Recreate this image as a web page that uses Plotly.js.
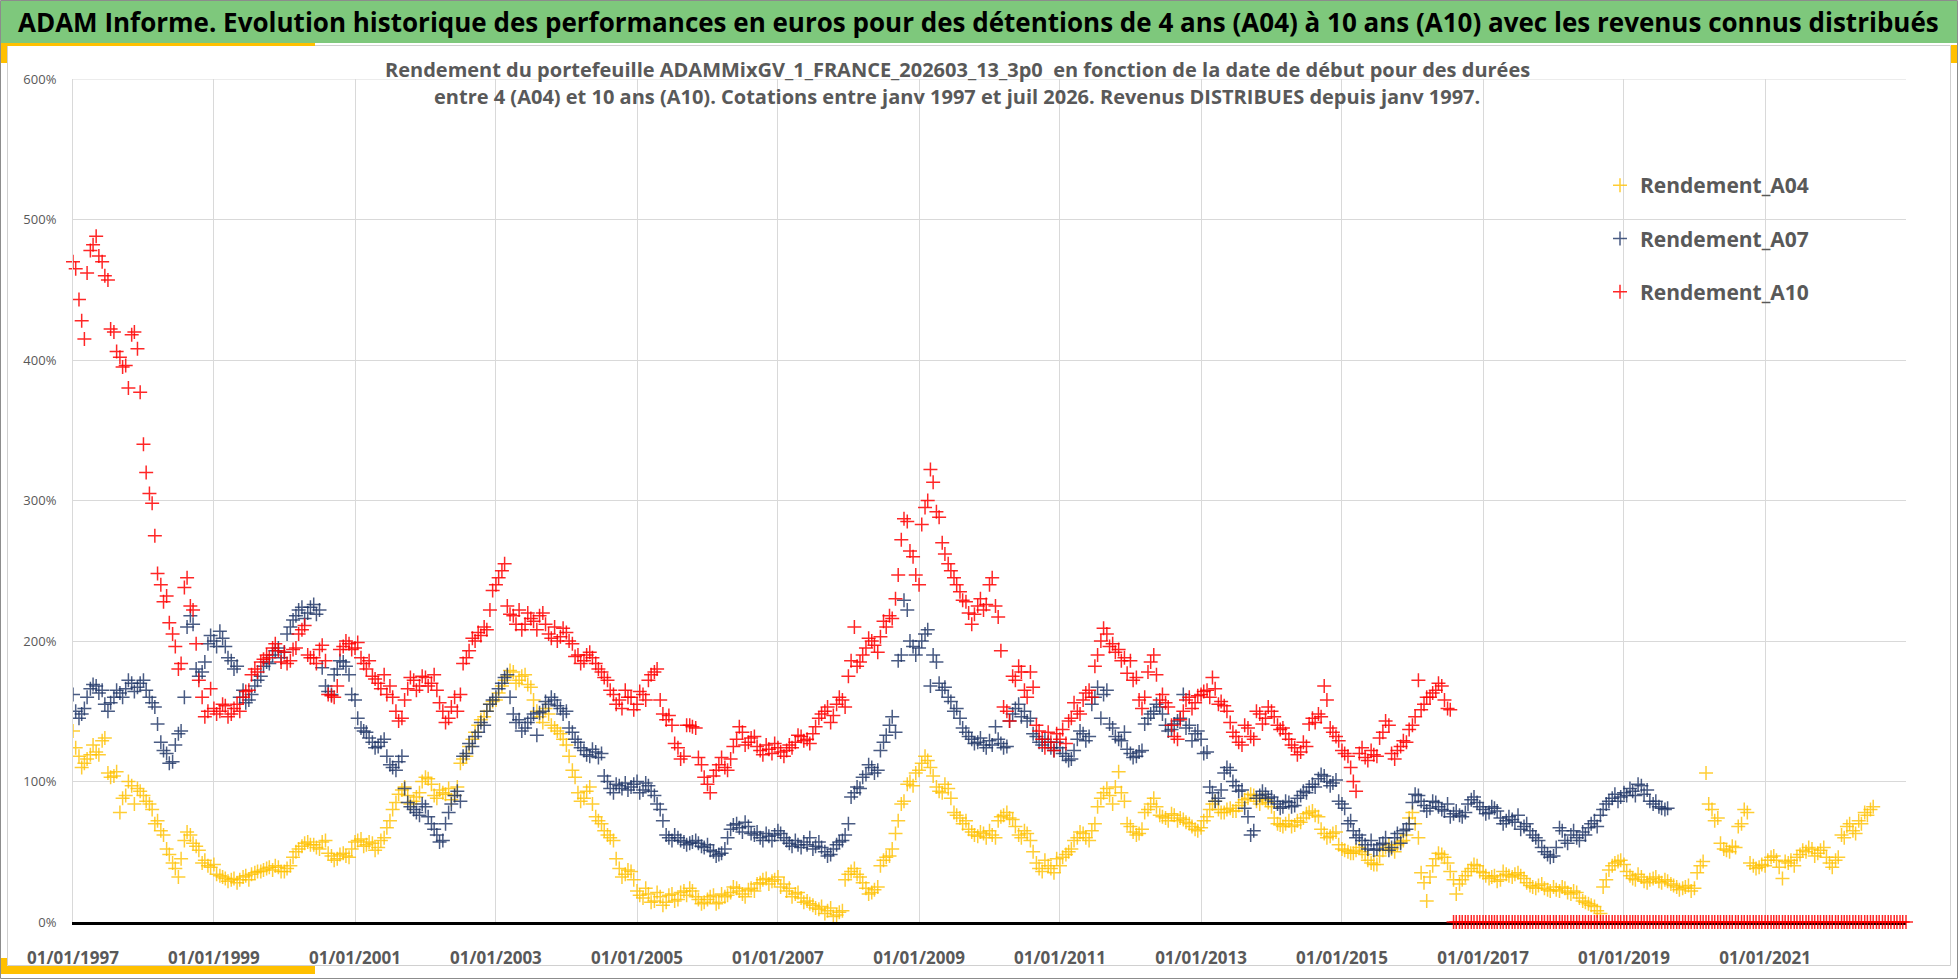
<!DOCTYPE html>
<html>
<head>
<meta charset="utf-8">
<script src="https://cdn.plot.ly/plotly-3.0.1.min.js"></script>
<style>
  html, body { margin: 0; padding: 0; background: #fff; }
  #chart { width: 1958px; height: 979px; }
</style>
</head>
<body>
<div id="chart"></div>
<script>
// readings in %, two per month (1st and 15th), starting 1 January 1997
const a04 = [
  136,124,118,110,113,116,119,126,121,119,129,131,106,103,104,107,78,88,90,100,97,84,95,93,       // 1997
  90,86,84,80,70,72,65,62,52,48,42,38,32,45,58,64,62,56,54,51,42,44,40,39,                       // 1998
  41,34,33,32,31,29,30,31,28,30,32,33,30,34,35,36,36,37,38,39,37,40,39,36,                       // 1999
  36,38,40,46,50,52,54,56,57,55,55,53,52,57,58,49,47,44,45,48,49,47,46,52,                       // 2000
  57,58,59,54,55,57,56,51,53,58,60,67,72,80,85,91,94,96,90,84,86,89,92,100,                      // 2001
  103,102,98,90,88,94,92,91,95,87,90,96,113,116,118,125,130,135,140,144,146,150,155,157,         // 2002
  158,163,168,172,175,179,178,170,172,175,176,169,167,158,150,146,142,152,148,140,138,136,134,130, // 2003
  126,118,108,103,92,86,88,93,96,84,75,72,70,65,62,60,58,45,38,32,34,37,36,30,                   // 2004
  22,19,17,24,20,14,15,21,18,12,14,19,20,15,16,21,22,19,24,22,18,16,13,14,                       // 2005
  16,18,19,13,14,20,18,19,21,25,24,22,20,18,23,24,22,27,28,30,31,27,29,30,                       // 2006
  32,25,27,22,24,18,20,21,17,14,15,13,12,10,9,11,6,8,10,4,5,7,8,30,                              // 2007
  34,36,38,34,32,28,24,20,21,23,25,40,44,46,47,52,63,72,84,86,98,100,97,106,                     // 2008
  108,113,118,115,110,104,96,93,92,98,95,88,78,76,74,70,72,66,64,62,61,64,63,60,                 // 2009
  65,62,60,72,75,76,78,74,73,68,62,60,65,63,58,50,42,38,36,44,40,38,35,45,                       // 2010
  40,46,48,50,52,58,60,64,63,60,58,65,70,82,88,92,95,90,84,96,107,92,86,70,                      // 2011
  68,64,62,63,66,78,80,84,88,82,76,75,74,72,77,76,72,74,73,71,70,68,66,65,                       // 2012
  67,72,75,80,84,86,80,78,78,80,81,79,79,83,85,87,88,91,90,86,84,88,87,85,                       // 2013
  82,74,70,69,68,70,72,68,69,72,71,74,77,78,79,76,75,66,63,60,61,63,64,55,                       // 2014
  52,51,50,49,49,51,53,50,48,44,42,41,41,47,51,53,55,52,50,55,57,58,62,74,                       // 2015
  78,70,60,35,28,15,32,40,45,49,48,46,42,36,30,20,27,30,33,36,38,41,40,36,                       // 2016
  35,33,31,32,33,29,30,36,34,33,32,34,35,33,31,28,26,25,24,26,27,24,23,22,                       // 2017
  25,23,22,25,24,21,20,22,21,17,15,14,13,12,11,8,6,25,30,37,40,42,43,44,                         // 2018
  41,36,33,31,30,34,32,29,28,30,31,32,29,28,30,29,27,26,25,23,24,25,26,22,                       // 2019
  24,35,40,43,106,84,80,72,74,56,52,51,50,54,53,68,70,80,78,42,40,38,39,41,                      // 2020
  40,44,46,47,44,39,31,43,42,44,40,46,48,51,50,53,52,47,49,51,53,46,42,39,                       // 2021
  44,46,62,60,68,70,65,63,72,70,78,76,80,82                                                      // 2022 (to July)
];

const a07 = [
  162,150,145,148,152,160,166,169,168,163,165,155,150,156,160,165,163,160,166,172,170,164,167,170, // 1997
  172,165,160,156,153,141,128,122,120,113,114,126,134,136,160,210,218,212,180,175,178,185,198,204, // 1998
  200,196,207,202,196,188,186,180,182,160,165,156,158,162,168,172,175,182,185,184,190,193,195,188, // 1999
  192,205,210,215,218,222,224,216,220,224,226,219,222,181,168,164,162,176,180,186,185,182,176,162, // 2000
  158,145,138,136,135,131,128,124,125,128,130,118,112,110,108,114,118,95,85,82,80,78,76,84,       // 2001
  82,75,70,66,62,57,58,70,78,84,90,93,86,118,120,127,125,132,135,142,140,150,155,158,             // 2002
  160,166,170,174,176,160,148,142,144,136,138,142,145,148,133,149,150,157,155,160,158,154,152,148, // 2003
  150,138,135,130,128,124,122,119,118,123,121,117,120,104,100,95,92,98,97,95,99,94,96,98,         // 2004
  100,92,94,99,97,93,90,84,80,72,62,60,58,62,60,58,57,55,56,57,58,56,54,53,                       // 2005
  55,51,50,47,48,49,52,60,66,69,70,67,64,71,68,63,62,64,60,58,63,61,58,62,                        // 2006
  65,63,60,58,56,54,58,55,53,57,55,60,52,54,57,53,50,47,48,52,55,57,58,62,                        // 2007
  70,89,92,96,95,103,105,112,110,106,108,122,128,133,140,146,135,186,190,229,222,200,196,190,     // 2008
  195,200,205,208,168,190,185,170,165,167,160,157,150,152,145,138,135,132,130,127,128,131,126,124, // 2009
  129,126,139,130,127,124,125,143,148,152,155,146,150,143,145,134,132,128,126,130,128,124,122,128, // 2010
  124,120,118,115,116,122,130,136,134,129,132,155,160,167,145,162,165,141,138,132,130,129,135,123, // 2011
  120,117,118,121,122,141,145,148,150,155,153,148,140,136,137,141,143,145,162,138,140,129,134,136, // 2012
  130,120,121,96,92,86,88,94,106,110,108,100,97,93,94,81,75,62,65,88,90,93,91,88,                 // 2013
  89,86,84,81,82,86,85,82,83,88,90,93,92,96,98,96,102,105,104,100,97,99,101,86,                   // 2014
  84,81,70,72,65,60,62,58,55,52,58,51,52,55,56,60,51,53,60,63,56,65,66,70,                        // 2015
  85,91,90,86,83,79,81,86,85,82,80,79,84,75,77,79,76,75,78,84,87,89,85,82,                        // 2016
  80,77,78,82,81,79,74,70,72,75,73,71,76,66,68,70,65,62,60,58,53,50,48,46,                        // 2017
  47,53,67,65,58,56,62,65,60,58,64,62,67,70,72,68,76,80,84,86,88,91,86,89,                        // 2018
  92,90,95,93,90,98,97,91,94,86,84,86,82,81,80,81                                                 // 2019 (to August)
];

const a10 = [
  470,465,443,428,415,462,478,482,488,474,470,460,457,422,420,406,402,395,396,380,418,420,408,377, // 1997
  340,320,305,298,275,248,240,228,232,213,205,196,180,184,238,245,225,222,198,172,160,146,150,166, // 1998
  152,148,150,155,154,146,148,152,155,150,160,164,165,176,180,178,185,187,190,188,195,198,193,185, // 1999
  192,184,186,194,195,205,208,211,190,188,188,184,194,197,186,162,161,160,168,194,196,200,198,194, // 2000
  195,199,188,184,180,186,175,173,170,166,176,162,168,160,150,143,145,158,166,174,172,165,168,175, // 2001
  174,168,170,176,165,156,150,142,145,153,160,150,162,184,188,193,202,200,206,204,210,208,222,236, // 2002
  240,245,250,255,225,219,218,212,222,208,212,220,216,214,208,218,220,212,205,202,210,200,203,209, // 2003
  206,200,198,189,190,184,186,190,192,188,184,180,178,174,172,165,162,155,158,152,165,160,160,151, // 2004
  155,164,162,158,172,176,178,180,158,148,144,147,140,127,124,116,118,140,140,139,138,117,112,103, // 2005
  98,92,104,108,112,117,110,108,116,125,130,139,135,126,128,131,132,125,122,119,126,123,120,127,   // 2006
  124,121,118,122,126,124,128,133,132,129,130,127,134,139,145,148,150,153,142,147,155,160,158,153, // 2007
  175,186,210,182,185,190,195,202,200,197,192,203,214,210,218,216,230,247,272,287,285,264,260,247, // 2008
  240,283,295,300,322,313,292,288,270,262,255,250,245,240,235,229,228,220,212,219,225,230,222,226, // 2009
  240,245,225,217,193,153,150,143,175,172,182,178,165,160,178,167,140,136,130,124,135,128,122,134, // 2010
  130,137,127,143,145,156,150,148,158,163,165,160,182,190,200,209,205,196,198,192,194,186,188,177, // 2011
  186,172,174,158,152,160,178,185,190,176,158,162,156,153,140,132,130,144,150,158,160,152,156,161, // 2012
  162,164,165,160,174,166,155,157,154,150,142,135,132,128,126,140,138,132,130,150,148,141,145,153, // 2013
  150,146,140,137,138,134,130,126,124,119,121,128,125,141,145,142,148,146,168,158,138,135,132,129, // 2014
  122,120,118,110,100,93,120,124,117,115,122,119,118,131,135,143,140,120,116,122,125,129,128,137,  // 2015
  140,146,172,151,155,160,160,163,165,170,168,158,152,151                                          // 2016 (to July)
];

// no 10-year result after mid 2016: the sheet plots 0 from August 2016 to January 2023
const a10Zeros = [
  0,0,0,0,0,0,0,0,0,0,                                // 2016
  0,0,0,0,0,0,0,0,0,0,0,0,0,0,0,0,0,0,0,0,0,0,0,0,    // 2017
  0,0,0,0,0,0,0,0,0,0,0,0,0,0,0,0,0,0,0,0,0,0,0,0,    // 2018
  0,0,0,0,0,0,0,0,0,0,0,0,0,0,0,0,0,0,0,0,0,0,0,0,    // 2019
  0,0,0,0,0,0,0,0,0,0,0,0,0,0,0,0,0,0,0,0,0,0,0,0,    // 2020
  0,0,0,0,0,0,0,0,0,0,0,0,0,0,0,0,0,0,0,0,0,0,0,0,    // 2021
  0,0,0,0,0,0,0,0,0,0,0,0,0,0,0,0,0,0,0,0,0,0,0,0,    // 2022
  0                                                   // 2023
];

const tickDates = ['1997-01-01','1999-01-01','2001-01-01','2003-01-01','2005-01-01','2007-01-01',
                   '2009-01-01','2011-01-01','2013-01-01','2015-01-01','2017-01-01','2019-01-01','2021-01-01'];
const tickLabels = ['01/01/1997','01/01/1999','01/01/2001','01/01/2003','01/01/2005','01/01/2007',
                    '01/01/2009','01/01/2011','01/01/2013','01/01/2015','01/01/2017','01/01/2019','01/01/2021'];

const seriesNames = ['Rendement_A04', 'Rendement_A07', 'Rendement_A10'];

const FONT = '"Open Sans", Lato, "Liberation Sans", sans-serif';
const GREY = '#595959';

// plot area in pixels
const L = 73, R = 1906, T = 79, B = 922;
const xp = (px) => (px - L) / (R - L);
const yp = (py) => (B - py) / (B - T);

// dates on the 1st and the 15th of each month
function halfMonthDates(year, month, n) {
    let out = [];
    for (let i = 0; i < n; i++) {
        let k = month - 1 + Math.floor(i / 2);
        let y = year + Math.floor(k / 12);
        let m = k % 12 + 1;
        out.push(y + '-' + String(m).padStart(2, '0') + (i % 2 ? '-15' : '-01'));
    }
    return out;
}

function crossMarker(color) {
    return {symbol: 'cross-thin-open', size: 10, color: color, line: {width: 1.5, color: color}};
}

let a10All = a10.concat(a10Zeros);

let traces = [
    {
        type: 'scatter', mode: 'markers', name: seriesNames[0], legendgroup: 'g1',
        x: halfMonthDates(1997, 1, a04.length), y: a04,
        marker: crossMarker('rgba(255,192,0,0.8)')
    },
    {
        type: 'scatter', mode: 'markers', name: seriesNames[1], legendgroup: 'g2',
        x: halfMonthDates(1997, 1, a07.length), y: a07,
        marker: crossMarker('rgba(33,55,104,0.82)')
    },
    {
        type: 'scatter', mode: 'markers', name: seriesNames[2], legendgroup: 'g3',
        x: halfMonthDates(1997, 1, a10All.length), y: a10All,
        cliponaxis: false,
        marker: crossMarker('rgba(255,0,0,0.85)')
    }
];

let yellow = '#FFC000';

function box(x0, x1, y0, y1, fill) {
    return {type: 'rect', xref: 'paper', yref: 'paper', x0: xp(x0), x1: xp(x1), y0: yp(y1), y1: yp(y0),
            line: {width: 0}, fillcolor: fill, layer: 'below'};
}

let shapes = [
    // outer frame and inner chart frame
    {type: 'rect', xref: 'paper', yref: 'paper', x0: xp(0.5), x1: xp(1957.5), y0: yp(978.5), y1: yp(0.5),
     line: {color: '#8c8c8c', width: 1}, fillcolor: 'rgba(0,0,0,0)', layer: 'below'},
    {type: 'rect', xref: 'paper', yref: 'paper', x0: xp(7.5), x1: xp(1950.5), y0: yp(965.5), y1: yp(45.5),
     line: {color: '#d0d0d0', width: 1}, fillcolor: 'rgba(0,0,0,0)', layer: 'below'},
    // green title band
    box(1, 1957, 1, 43, '#7ec87c'),
    // yellow corner accents
    box(1, 315, 43, 46, yellow),
    box(1, 7, 43, 63, yellow),
    box(1951, 1957, 45, 63, yellow),
    box(1, 315, 966, 974, yellow),
    box(1, 7, 958, 974, yellow),
    // top grid line at 600%
    {type: 'line', xref: 'paper', yref: 'y', x0: 0, x1: 1, y0: 600, y1: 600,
     line: {color: '#d9d9d9', width: 1}, layer: 'below'}
];

let annotations = [
    {
        xref: 'paper', yref: 'paper', x: xp(16), y: yp(22), xanchor: 'left', yanchor: 'middle', showarrow: false,
        text: 'ADAM Informe. Evolution historique des performances en euros pour des détentions de 4 ans (A04) à 10 ans (A10) avec les revenus connus distribués',
        font: {family: FONT, size: 26, weight: 700, color: '#000000'}
    },
    {
        xref: 'paper', yref: 'paper', x: xp(957), y: yp(69), xanchor: 'center', yanchor: 'middle', showarrow: false,
        text: 'Rendement du portefeuille ADAMMixGV_1_FRANCE_202603_13_3p0&nbsp; en fonction de la date de début pour des durées',
        font: {family: FONT, size: 20, weight: 700, color: GREY}
    },
    {
        xref: 'paper', yref: 'paper', x: xp(957), y: yp(96), xanchor: 'center', yanchor: 'middle', showarrow: false,
        text: 'entre 4 (A04) et 10 ans (A10). Cotations entre janv 1997 et juil 2026. Revenus DISTRIBUES depuis janv 1997.',
        font: {family: FONT, size: 20, weight: 700, color: GREY}
    }
];

let layout = {
    width: 1958,
    height: 979,
    margin: {l: L, r: 1958 - R, t: T, b: 979 - B, pad: 0},
    paper_bgcolor: '#ffffff',
    plot_bgcolor: '#ffffff',
    font: {family: FONT, color: GREY},

    xaxis: {
        type: 'date',
        range: ['1997-01-01', '2023-01-01'],
        tickmode: 'array',
        tickvals: tickDates,
        ticktext: tickLabels,
        ticks: '',
        showgrid: true,
        gridcolor: '#d9d9d9',
        gridwidth: 1,
        zeroline: false,
        showline: true,
        linecolor: '#000000',
        linewidth: 3,
        layer: 'below traces',
        ticklabelstandoff: 19,
        tickfont: {family: FONT, size: 17, weight: 700, color: GREY},
        fixedrange: true
    },

    yaxis: {
        range: [0, 600],
        tick0: 0,
        dtick: 100,
        ticksuffix: '%',
        ticks: '',
        showgrid: true,
        gridcolor: '#d9d9d9',
        gridwidth: 1,
        zeroline: false,
        showline: true,
        linecolor: '#d9d9d9',
        linewidth: 1,
        ticklabelstandoff: 13,
        tickfont: {family: FONT, size: 13, color: GREY},
        fixedrange: true
    },

    showlegend: true,
    legend: {
        x: xp(1600), y: yp(165), xanchor: 'left', yanchor: 'top',
        bgcolor: 'rgba(0,0,0,0)',
        traceorder: 'grouped',
        tracegroupgap: 23,
        itemwidth: 30,
        font: {family: FONT, size: 21, weight: 700, color: GREY}
    },

    shapes: shapes,
    annotations: annotations
};

Plotly.newPlot('chart', traces, layout, {displayModeBar: false, staticPlot: true});
</script>
</body>
</html>
